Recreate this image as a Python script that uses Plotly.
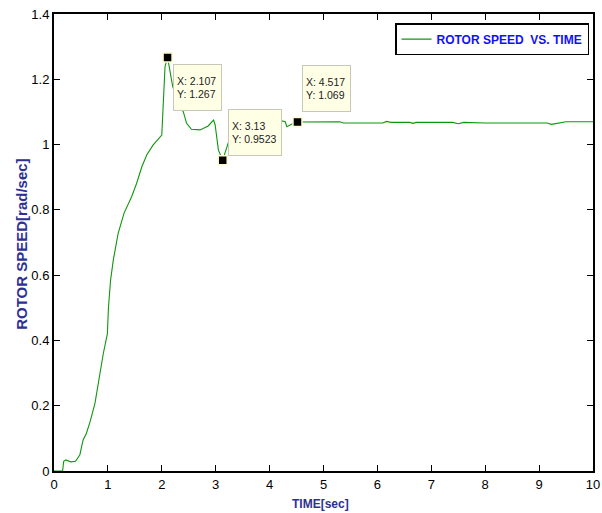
import plotly.graph_objects as go

# Rotor speed response (time in seconds, speed in rad/sec)
time_s = [0, 0.16, 0.18, 0.22, 0.31, 0.40, 0.48, 0.54, 0.60, 0.67, 0.76, 0.85,
          0.915, 0.99, 1.01, 1.05, 1.10, 1.19, 1.30, 1.44, 1.53, 1.63, 1.72,
          1.84, 1.95, 2.0, 2.06, 2.107, 2.2, 2.3, 2.40, 2.46, 2.55, 2.71, 2.86,
          2.96, 2.99, 3.05, 3.13, 3.20, 3.30, 3.45, 3.6, 3.8, 4.0, 4.16, 4.29,
          4.32, 4.38, 4.45, 4.517, 5.0, 5.3, 5.37, 5.45, 6.1, 6.17, 6.25, 6.6,
          6.66, 6.72, 7.0, 7.4, 7.5, 7.6, 8.0, 9.0, 9.15, 9.23, 9.35, 9.5, 10.0]
speed = [0, 0, 0.03, 0.034, 0.028, 0.03, 0.05, 0.095, 0.115, 0.151, 0.207, 0.30,
         0.36, 0.42, 0.50, 0.585, 0.646, 0.728, 0.79, 0.84, 0.88, 0.932, 0.968,
         0.999, 1.02, 1.029, 1.239, 1.267, 1.18, 1.125, 1.10, 1.065, 1.047, 1.045,
         1.057, 1.075, 1.06, 0.983, 0.9523, 0.99, 1.04, 1.07, 1.075, 1.072, 1.072,
         1.075, 1.07, 1.055, 1.06, 1.066, 1.069, 1.070, 1.070, 1.066, 1.066,
         1.066, 1.071, 1.068, 1.068, 1.065, 1.068, 1.068, 1.068, 1.064, 1.068,
         1.066, 1.066, 1.066, 1.062, 1.066, 1.070, 1.070]

# Data tips
tip_t = [2.107, 3.13, 4.517]
tip_speed = [1.267, 0.9523, 1.069]
tip_text = ["X: 2.107<br>Y: 1.267", "X: 3.13<br>Y: 0.9523", "X: 4.517<br>Y: 1.069"]

x_ticks = list(range(0, 11))
y_ticks = [0, 0.2, 0.4, 0.6, 0.8, 1, 1.2, 1.4]
y_tick_text = ["0", "0.2", "0.4", "0.6", "0.8", "1", "1.2", "1.4"]

FONT = "Arial, Liberation Sans, sans-serif"
LABEL_BLUE = "#2e3192"

fig = go.Figure()
fig.add_trace(go.Scatter(
    x=time_s, y=speed, mode="lines", name="ROTOR SPEED  VS. TIME",
    line=dict(color="#0f960f", width=1.1),
))
fig.add_trace(go.Scatter(
    x=tip_t, y=tip_speed, mode="markers", showlegend=False,
    marker=dict(symbol="square", size=9, color="black",
                line=dict(color="#fffbd0", width=1.5)),
))

# Data tip boxes: (xanchor, yanchor, xshift, yshift, box width)
tip_place = [("left", "top", 5, -7, 41), ("left", "bottom", 5, 4, 46),
             ("left", "bottom", 5, 10, 41)]
for tx, ty, txt, (xa, ya, xs, ys, w) in zip(tip_t, tip_speed, tip_text, tip_place):
    fig.add_annotation(
        x=tx, y=ty, xref="x", yref="y", text=txt, showarrow=False,
        xanchor=xa, yanchor=ya, xshift=xs, yshift=ys, align="left", valign="middle",
        width=w, height=39,
        font=dict(family=FONT, size=10.5, color="#222222"),
        bgcolor="#ffffe6", bordercolor="#c8c8b8", borderwidth=1, borderpad=3,
    )

# Axis titles
fig.add_annotation(
    text="ROTOR SPEED[rad/sec]", xref="paper", yref="paper", x=-0.0594, y=0.497,
    textangle=-90, showarrow=False, xanchor="center", yanchor="middle",
    font=dict(family=FONT, size=15, color=LABEL_BLUE, weight="bold"),
)
fig.add_annotation(
    text="TIME[sec]", xref="paper", yref="paper", x=0.495, y=-0.072,
    showarrow=False, xanchor="center", yanchor="middle",
    font=dict(family=FONT, size=12, color=LABEL_BLUE, weight="bold"),
)

axis_common = dict(
    showgrid=False, zeroline=False, showline=True, linecolor="black", linewidth=2,
    mirror="ticks", ticks="inside", ticklen=6, tickwidth=1, tickcolor="black",
    tickfont=dict(family=FONT, size=13, color="black"), automargin=False,
)
fig.update_xaxes(range=[0, 10], tickvals=x_ticks, **axis_common)
fig.update_yaxes(range=[0, 1.4], tickvals=y_ticks, ticktext=y_tick_text, **axis_common)

fig.update_layout(
    width=602, height=513,
    margin=dict(l=54, r=9, t=14, b=42),
    paper_bgcolor="white", plot_bgcolor="white",
    showlegend=True,
    legend=dict(
        x=0.9926, y=0.980, xanchor="right", yanchor="top",
        bgcolor="white", bordercolor="black", borderwidth=1.5,
        font=dict(family=FONT, size=12, color="#1010ff", weight="bold"),
        itemwidth=30,
    ),
)

fig.write_html("out.html")
